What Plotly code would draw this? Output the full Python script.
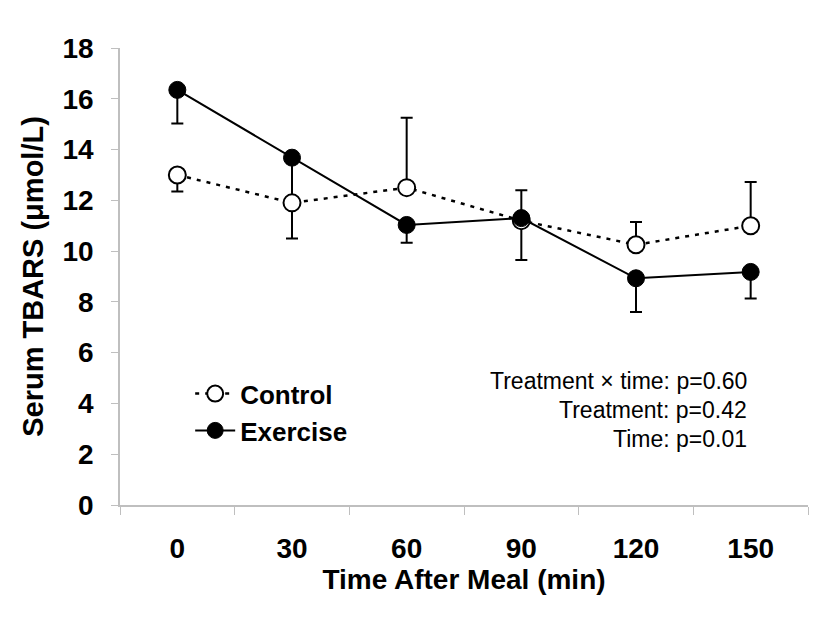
import plotly.graph_objects as go

times = ["0", "30", "60", "90", "120", "150"]

control = [13.0, 11.9, 12.5, 11.2, 10.25, 11.0]
control_err_up = [0, 0, 2.75, 0, 0.9, 1.72]
control_err_down = [0.65, 1.4, 0, 1.55, 0, 0]

exercise = [16.35, 13.68, 11.03, 11.3, 8.93, 9.18]
exercise_err_up = [0, 0, 0, 1.1, 0, 0]
exercise_err_down = [1.32, 1.8, 0.7, 0, 1.33, 1.05]

font = "Arial, Liberation Sans, sans-serif"
axis_grey = "#bfbfbf"

fig = go.Figure()

# exercise error bars go underneath the control markers
fig.add_trace(go.Scatter(
    x=times, y=exercise, mode="markers",
    marker=dict(size=1, color="rgba(0,0,0,0)"),
    error_y=dict(type="data", symmetric=False, array=exercise_err_up,
                 arrayminus=exercise_err_down, color="black", thickness=2, width=6),
    showlegend=False, hoverinfo="skip",
))

fig.add_trace(go.Scatter(
    x=times, y=control, name="Control", mode="lines+markers",
    line=dict(color="black", width=2.5, dash="4px,6px"),
    marker=dict(symbol="circle", size=17, color="white", line=dict(color="black", width=2)),
    error_y=dict(type="data", symmetric=False, array=control_err_up,
                 arrayminus=control_err_down, color="black", thickness=2, width=6),
))

fig.add_trace(go.Scatter(
    x=times, y=exercise, name="Exercise", mode="lines+markers",
    line=dict(color="black", width=2),
    marker=dict(symbol="circle", size=17, color="black", line=dict(color="black", width=1)),
))

notes = ["Treatment × time: p=0.60", "Treatment: p=0.42", "Time: p=0.01"]
for i, t in enumerate(notes):
    fig.add_annotation(
        x=0.914, y=0.271 - i * 0.0635, xref="paper", yref="paper",
        xanchor="right", yanchor="middle", text=t, showarrow=False,
        font=dict(family=font, size=23, color="black"),
    )

# page body has an 8px margin, so the figure is 8px smaller and margins shifted
fig.update_layout(
    width=830, height=612,
    margin=dict(l=112, r=30, t=40, b=115),
    plot_bgcolor="white", paper_bgcolor="white",
    font=dict(family=font, color="black"),
    legend=dict(
        x=0.102, y=0.295, xanchor="left", yanchor="top",
        font=dict(family=font, size=26, color="black", weight="bold"),
        bgcolor="rgba(0,0,0,0)", itemwidth=40,
    ),
    xaxis=dict(
        type="category", range=[-0.5, 5.5], tickson="boundaries",
        ticks="outside", ticklen=8, tickcolor=axis_grey, tickwidth=1,
        showline=True, linecolor=axis_grey, linewidth=1.5,
        showgrid=False, zeroline=False, ticklabelstandoff=18,
        tickfont=dict(family=font, size=28, color="black", weight="bold"),
        title=dict(text="Time After Meal (min)", standoff=0,
                   font=dict(family=font, size=28, color="black", weight="bold")),
    ),
    yaxis=dict(
        range=[0, 18], dtick=2, ticks="outside", ticklen=7,
        tickcolor=axis_grey, tickwidth=1,
        showline=True, linecolor=axis_grey, linewidth=1.5,
        showgrid=False, zeroline=False, ticklabelstandoff=12,
        tickfont=dict(family=font, size=28, color="black", weight="bold"),
        title=dict(text="Serum TBARS (μmol/L)", standoff=10,
                   font=dict(family=font, size=29, color="black", weight="bold")),
    ),
)

fig.write_html("out.html")
